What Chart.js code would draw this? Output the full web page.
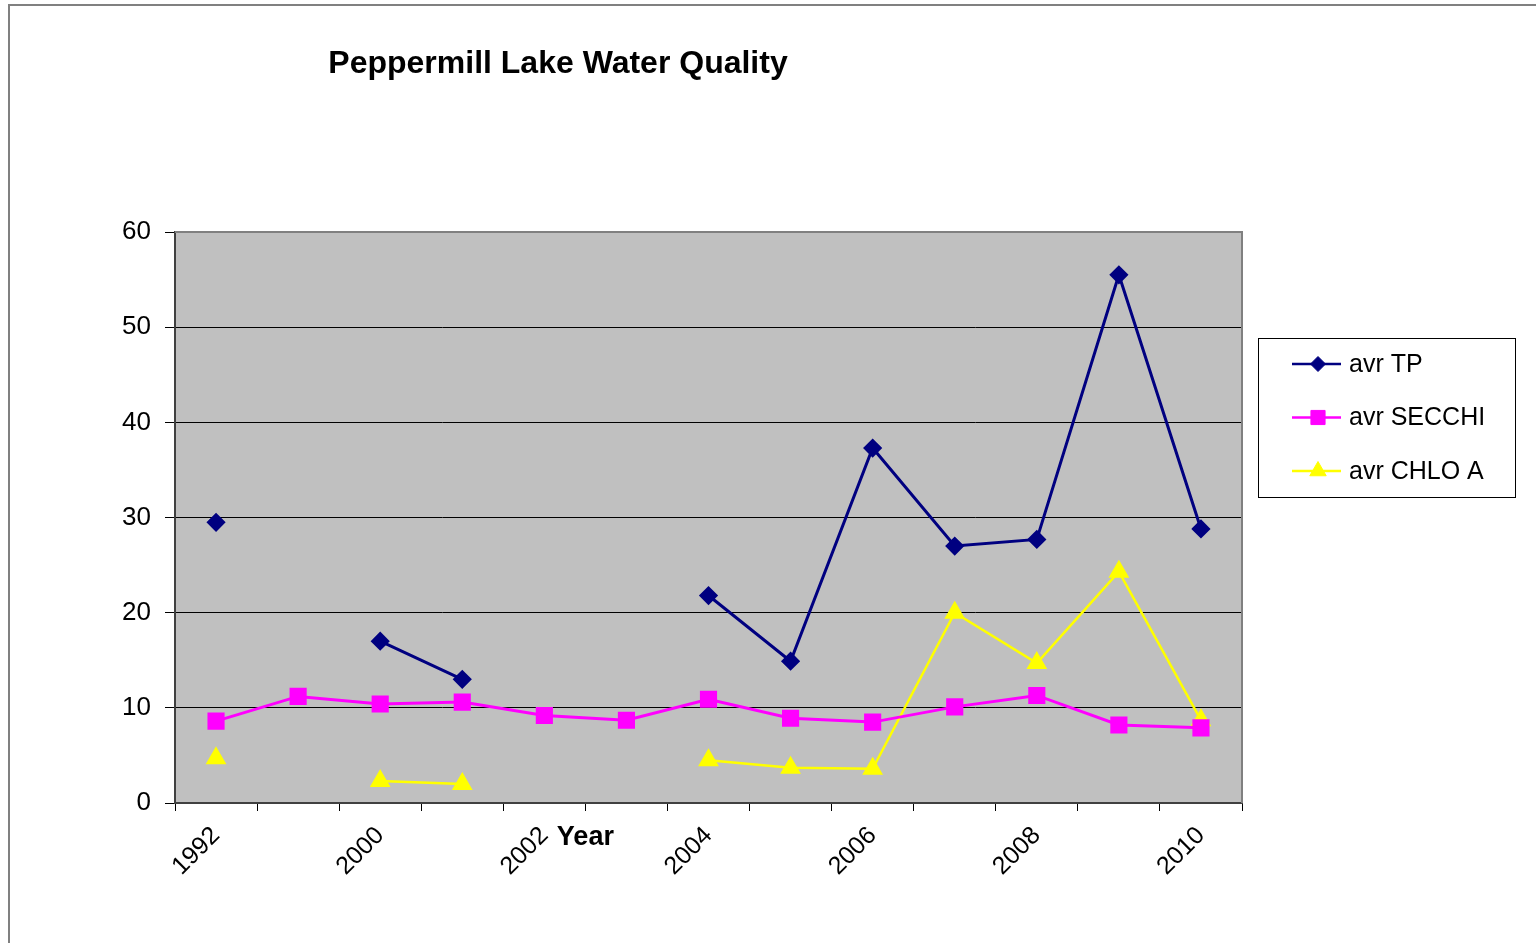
<!DOCTYPE html>
<html>
<head>
<meta charset="utf-8">
<script src="https://cdn.jsdelivr.net/npm/chart.js@4.4.1/dist/chart.umd.min.js"></script>
<style>
  body { margin: 0; background: #fff; overflow: hidden; }
  #wrap { position: relative; width: 1536px; height: 943px; }
</style>
</head>
<body>
<div id="wrap"><canvas id="chart" width="1536" height="943"></canvas></div>
<script>
// categories: only every other year label is printed in the original
const YEARS = ['1992', '1999', '2000', '2001', '2002', '2003', '2004', '2005', '2006', '2007', '2008', '2009', '2010'];
const AVR_TP = [29.5, null, 17.0, 13.0, null, null, 21.8, 14.9, 37.3, 27.0, 27.7, 55.5, 28.8];
const AVR_SECCHI = [8.6, 11.2, 10.4, 10.6, 9.2, 8.7, 10.9, 8.9, 8.5, 10.1, 11.3, 8.2, 7.9];
const AVR_CHLO_A = [4.7, null, 2.3, 2.0, null, null, 4.5, 3.7, 3.6, 20.0, 14.7, 24.3, 8.7];
const Y_MIN = 0, Y_MAX = 60, Y_STEP = 10;

const FONT = '"Liberation Sans", Arial, sans-serif';

// gray plot background, plot frame, outer chart border, title, axis title, legend
const decor = {
    id: 'decor',
    beforeDraw(chart) {
        const { ctx, chartArea: a } = chart;
        ctx.save();
        ctx.fillStyle = '#C0C0C0';
        ctx.fillRect(a.left, a.top, a.right - a.left, a.bottom - a.top);
        ctx.restore();
    },
    afterDraw(chart) {
        const { ctx, chartArea: a, scales } = chart;
        ctx.save();
        // plot frame top + right
        ctx.strokeStyle = '#808080';
        ctx.lineWidth = 2;
        ctx.beginPath();
        ctx.moveTo(a.left, a.top);
        ctx.lineTo(a.right, a.top);
        ctx.lineTo(a.right, a.bottom);
        ctx.stroke();
        // outer border
        ctx.strokeRect(9, 5, 1700, 1100);

        // title
        ctx.fillStyle = '#000';
        ctx.font = 'bold 32px ' + FONT;
        ctx.textAlign = 'center';
        ctx.textBaseline = 'middle';
        ctx.fillText('Peppermill Lake Water Quality', 558, 64);

        // axis title, sits between 2002 and 2003 slots like the original
        ctx.font = 'bold 27px ' + FONT;
        const xm = (scales.x.getPixelForValue(4) + scales.x.getPixelForValue(5)) / 2;
        ctx.fillText('Year', xm, 838);

        // legend
        const lx = 1258, ly = 338, lw = 257, lh = 159;
        ctx.strokeStyle = '#000';
        ctx.lineWidth = 1;
        ctx.strokeRect(lx + 0.5, ly + 0.5, lw, lh);
        ctx.font = '25px ' + FONT;
        ctx.textAlign = 'left';
        chart.data.datasets.forEach((ds, i) => {
            const y = ly + 26 + i * 53.5;
            ctx.strokeStyle = ds.borderColor;
            ctx.lineWidth = 2.5;
            ctx.beginPath();
            ctx.moveTo(lx + 34, y);
            ctx.lineTo(lx + 83, y);
            ctx.stroke();
            ctx.fillStyle = ds.pointBackgroundColor;
            ctx.strokeStyle = ds.pointBorderColor;
            ctx.lineWidth = 1;
            Chart.helpers.drawPoint(ctx, { pointStyle: ds.pointStyle, radius: ds.pointRadius, rotation: 0, borderWidth: 1 }, lx + 60, y);
            ctx.fillStyle = '#000';
            ctx.fillText(ds.label, lx + 91, y + 1);
        });
        ctx.restore();
    }
};

const chart = new Chart(document.getElementById('chart'), {
    type: 'line',
    data: {
        labels: YEARS,
        datasets: [{
            label: 'avr TP',
            data: AVR_TP,
            borderColor: '#000080',
            borderWidth: 3,
            pointStyle: 'rectRot',
            pointRadius: 7.5,
            pointBackgroundColor: '#000080',
            pointBorderColor: '#000080',
            spanGaps: false
        }, {
            label: 'avr SECCHI',
            data: AVR_SECCHI,
            borderColor: '#FF00FF',
            borderWidth: 3,
            pointStyle: 'rect',
            pointRadius: 10,
            pointBackgroundColor: '#FF00FF',
            pointBorderColor: '#FF00FF',
            spanGaps: false
        }, {
            label: 'avr CHLO A',
            data: AVR_CHLO_A,
            borderColor: '#FFFF00',
            borderWidth: 2.5,
            pointStyle: 'triangle',
            pointRadius: 9.5,
            pointBackgroundColor: '#FFFF00',
            pointBorderColor: '#FFFF00',
            spanGaps: false
        }]
    },
    options: {
        responsive: false, animation: false,
        layout: { padding: { top: 232, right: 294, left: 0, bottom: 0 } },
        scales: {
            x: {
                offset: true,
                grid: { offset: true, drawOnChartArea: false, color: '#000', tickLength: 8 },
                border: { color: '#404040', width: 2 },
                ticks: {
                    autoSkip: false, minRotation: 45, maxRotation: 45, padding: 10,
                    color: '#000', font: { family: FONT, size: 25 },
                    callback: (v, i) => (i % 2 === 0 ? YEARS[i] : '')
                },
                afterFit: s => { s.height = 140; }
            },
            y: {
                min: Y_MIN, max: Y_MAX,
                grid: { color: '#000', lineWidth: 1, tickLength: 10 },
                border: { color: '#404040', width: 2 },
                ticks: { stepSize: Y_STEP, padding: 14, color: '#000', font: { family: FONT, size: 26 } },
                afterFit: s => { s.width = 175; }
            }
        },
        plugins: { legend: { display: false }, title: { display: false }, tooltip: { enabled: false } }
    },
    plugins: [decor]
});
</script>
</body>
</html>
